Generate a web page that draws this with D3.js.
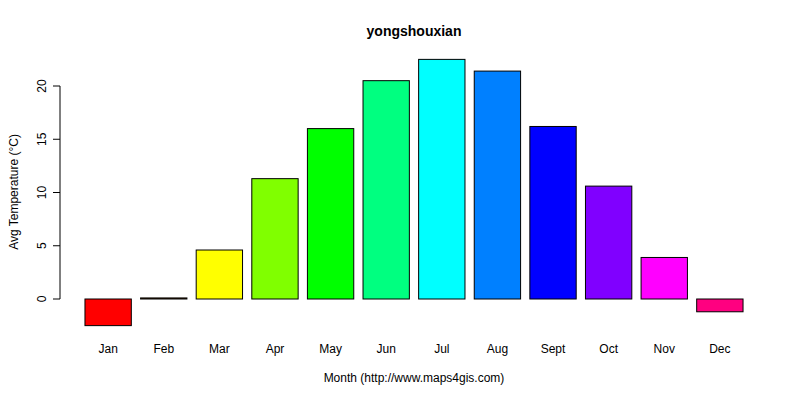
<!doctype html>
<html>
<head>
<script src="https://d3js.org/d3.v7.min.js"></script>
<style>
body { margin: 0; background: #fff; }
text { font-family: "Liberation Sans", Arial, sans-serif; font-size: 12px; }
</style>
</head>
<body>
<svg width="800" height="400"></svg>
<script>
var months = ["Jan", "Feb", "Mar", "Apr", "May", "Jun", "Jul", "Aug", "Sept", "Oct", "Nov", "Dec"];
var temps = [-2.5, 0.1, 4.6, 11.3, 16.0, 20.5, 22.5, 21.4, 16.2, 10.6, 3.9, -1.2];
var colors = ["#FF0000", "#FF8000", "#FFFF00", "#80FF00", "#00FF00", "#00FF80",
              "#00FFFF", "#0080FF", "#0000FF", "#8000FF", "#FF00FF", "#FF0080"];
var yTicks = [0, 5, 10, 15, 20];

var svg = d3.select("svg");
// R barplot layout: width 1, space 0.2
var x = d3.scaleLinear().domain([0, 14.6]).range([75.7, 752.3]);
var y = d3.scaleLinear().domain([0, 20]).range([299, 86]);

svg.selectAll("rect.bar").data(temps).enter().append("rect")
	.attr("x", function(d, i) { return x(0.2 + i * 1.2); })
	.attr("width", x(1) - x(0))
	.attr("y", function(d) { return y(Math.max(0, d)); })
	.attr("height", function(d) { return Math.abs(y(d) - y(0)); })
	.attr("fill", function(d, i) { return colors[i]; })
	.attr("stroke", "#000").attr("stroke-width", 1);

svg.selectAll("text.month").data(months).enter().append("text")
	.attr("x", function(d, i) { return x(0.7 + i * 1.2); })
	.attr("y", 353).attr("text-anchor", "middle").text(function(d) { return d; });

var axis = svg.append("g").attr("transform", "translate(60,0)");
axis.append("line").attr("x1", 0).attr("x2", 0)
	.attr("y1", y(0)).attr("y2", y(20)).attr("stroke", "#000");
yTicks.forEach(function(t) {
	axis.append("line").attr("x1", 0).attr("x2", -7)
		.attr("y1", y(t)).attr("y2", y(t)).attr("stroke", "#000");
	axis.append("text").attr("transform", "translate(-18," + y(t) + ") rotate(-90)")
		.attr("text-anchor", "middle").attr("dy", "0.35em").text(t);
});

svg.append("text").attr("x", 414).attr("y", 36).attr("text-anchor", "middle")
	.style("font-weight", "bold").style("font-size", "14px").text("yongshouxian");
svg.append("text").attr("x", 414).attr("y", 382).attr("text-anchor", "middle")
	.text("Month (http://www.maps4gis.com)");
svg.append("text").attr("transform", "translate(14,192) rotate(-90)")
	.attr("text-anchor", "middle").attr("dy", "0.35em").text("Avg Temperature (°C)");
</script>
</body>
</html>
